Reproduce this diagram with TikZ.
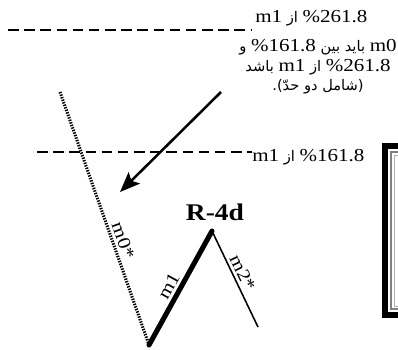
\documentclass[tikz,border=0pt]{standalone}
\usepackage{fontspec}
\setmainfont{Liberation Serif}[FakeStretch=1.15]
\newfontfamily\fafont[Script=Arabic,Scale=0.8]{DejaVu Sans}
\TeXXeTstate=1
\usetikzlibrary{arrows.meta}
\newcommand{\lat}[1]{\beginL{\rmfamily #1}\endL}
\newcommand{\fa}[1]{{\fafont\beginR #1\endR}}
\tikzset{
  lvl/.style={line width=2pt,dash pattern=on 7.5pt off 4pt},
  lvltxt/.style={font=\fontsize{13}{13}\selectfont,inner sep=0pt,anchor=base west},
  notetxt/.style={font=\fontsize{13}{13}\selectfont,align=center,inner sep=0pt},
  pointer/.style={-{Stealth[length=5mm,width=4mm,inset=1mm]},line width=1.8pt},
  wave0/.style={line width=2.2pt,dash pattern=on 1pt off 0.9pt},
  wave1/.style={line width=3.6pt},
  wave2/.style={line width=1.1pt},
  wavetxt/.style={font=\fontsize{13}{13}\selectfont,sloped,above,inner sep=2pt},
  titletxt/.style={font=\fontsize{17}{17}\selectfont\bfseries}
}
\begin{document}
\begin{tikzpicture}[x=0.025cm,y=-0.025cm]
  \useasboundingbox (0,0) rectangle (398,349);
  \clip (0,0) rectangle (398,349);
  % level lines
  \node[lvltxt] (top) at (255,22) {\fa{\lat{\%261.8} از \lat{m1}}};
  \coordinate (topL) at (8,30);
  \coordinate (topR) at (252,30);
  \draw[lvl] (topL) -- (topR);
  \node[lvltxt] (mid) at (252,161) {\fa{\lat{\%161.8} از \lat{m1}}};
  \coordinate (midL) at (37,152);
  \draw[lvl] (midL) -- (mid.west |- midL);
  % note and arrow
  \node[notetxt,anchor=north] (note) at (318,39) {\fa{\lat{m0} باید بین \lat{\%161.8} و}\\[1pt]
    \fa{\lat{\%261.8} از \lat{m1} باشد}\\[1pt]
    \fa{(شامل دو حدّ).}};
  \coordinate (tail) at (221,92);
  \coordinate (tip) at (120,192);
  \draw[pointer] (tail) -- (tip);
  % waves
  \coordinate (p0) at (60,92);
  \coordinate (p1) at (149,345);
  \coordinate (p2) at (212,231);
  \coordinate (p3) at (258,327);
  \draw[wave0] (p0) -- node[wavetxt,pos=0.6] {m0*} (p1);
  \draw[wave1,line cap=round] (p1) -- node[wavetxt,pos=0.47] {m1} (p2);
  \draw[wave2] (p2) -- node[wavetxt,pos=0.48] {m2*} (p3);
  \node[titletxt] (title) at (215,212) {R-4d};
  % box at the right edge
  \draw[line width=4.5pt] (385,146) rectangle (430,315);
  \draw[gray,line width=0.8pt] (391,152) rectangle (430,309);
  \draw[gray!60,line width=0.6pt] (394,155) rectangle (430,306);
\end{tikzpicture}
\end{document}
